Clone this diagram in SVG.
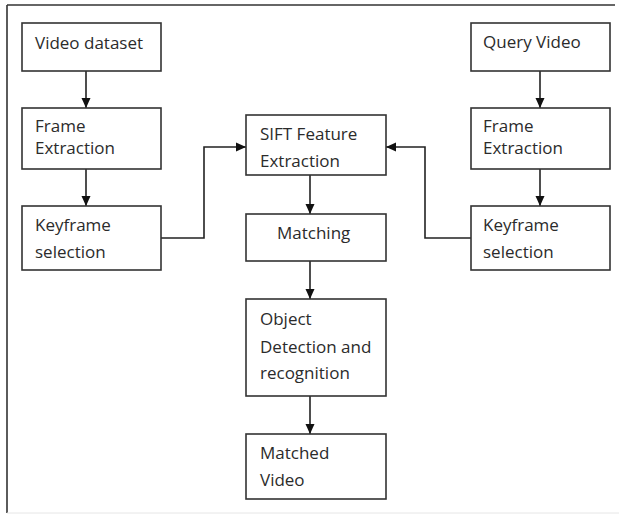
<svg xmlns="http://www.w3.org/2000/svg" width="619" height="519" viewBox="0 0 619 519">
<defs>
<style>
.box{fill:#fff;stroke:#333;stroke-width:1.6}
.t{font-family:"Open Sans","Liberation Sans",sans-serif;font-size:17px;fill:#2b2b2b}
.c{fill:none;stroke:#222;stroke-width:1.6}
</style>
<marker id="ah" viewBox="0 0 10 10" refX="10" refY="5" markerWidth="10" markerHeight="10" markerUnits="userSpaceOnUse" orient="auto">
<path d="M0,0.5 L10,5 L0,9.5 Z" fill="#111"/>
</marker>
</defs>
<rect width="619" height="519" fill="#fff"/>
<g id="frame">
<line x1="7" y1="5" x2="615" y2="5" stroke="#333" stroke-width="1.6"/>
<line x1="7" y1="5" x2="7" y2="513" stroke="#333" stroke-width="1.6"/>
<line x1="7" y1="513" x2="619" y2="513" stroke="#e6e6e6" stroke-width="1"/>
</g>
<g id="connectors">
<line class="c" x1="86" y1="71" x2="86" y2="108" marker-end="url(#ah)"/>
<line class="c" x1="86" y1="169" x2="86" y2="206" marker-end="url(#ah)"/>
<line class="c" x1="540" y1="71" x2="540" y2="108" marker-end="url(#ah)"/>
<line class="c" x1="540" y1="169" x2="540" y2="206" marker-end="url(#ah)"/>
<polyline class="c" points="161,238 204,238 204,147 246,147" marker-end="url(#ah)"/>
<polyline class="c" points="471,238 425,238 425,147 386,147" marker-end="url(#ah)"/>
<line class="c" x1="310" y1="175" x2="310" y2="214" marker-end="url(#ah)"/>
<line class="c" x1="310" y1="261" x2="310" y2="299" marker-end="url(#ah)"/>
<line class="c" x1="310" y1="396" x2="310" y2="434" marker-end="url(#ah)"/>
</g>
<g id="video-dataset">
<rect class="box" x="22" y="23" width="139" height="48"/>
<text class="t" x="35" y="49">Video dataset</text>
</g>
<g id="frame-extraction-left">
<rect class="box" x="22" y="108" width="139" height="61"/>
<text class="t" x="35" y="132">Frame</text>
<text class="t" x="35" y="154">Extraction</text>
</g>
<g id="keyframe-left">
<rect class="box" x="22" y="206" width="139" height="64"/>
<text class="t" x="35" y="231">Keyframe</text>
<text class="t" x="35" y="258">selection</text>
</g>
<g id="query-video">
<rect class="box" x="471" y="23" width="139" height="48"/>
<text class="t" x="483" y="48">Query Video</text>
</g>
<g id="frame-extraction-right">
<rect class="box" x="471" y="108" width="139" height="61"/>
<text class="t" x="483" y="132">Frame</text>
<text class="t" x="483" y="154">Extraction</text>
</g>
<g id="keyframe-right">
<rect class="box" x="471" y="206" width="139" height="64"/>
<text class="t" x="483" y="231">Keyframe</text>
<text class="t" x="483" y="258">selection</text>
</g>
<g id="sift">
<rect class="box" x="246" y="115" width="140" height="60"/>
<text class="t" x="260" y="140">SIFT Feature</text>
<text class="t" x="260" y="167">Extraction</text>
</g>
<g id="matching">
<rect class="box" x="246" y="214" width="140" height="47"/>
<text class="t" x="277" y="239">Matching</text>
</g>
<g id="object-detection">
<rect class="box" x="246" y="299" width="140" height="97"/>
<text class="t" x="260" y="325">Object</text>
<text class="t" x="260" y="353">Detection and</text>
<text class="t" x="260" y="379">recognition</text>
</g>
<g id="matched-video">
<rect class="box" x="246" y="434" width="140" height="65"/>
<text class="t" x="260" y="459">Matched</text>
<text class="t" x="260" y="486">Video</text>
</g>
</svg>
